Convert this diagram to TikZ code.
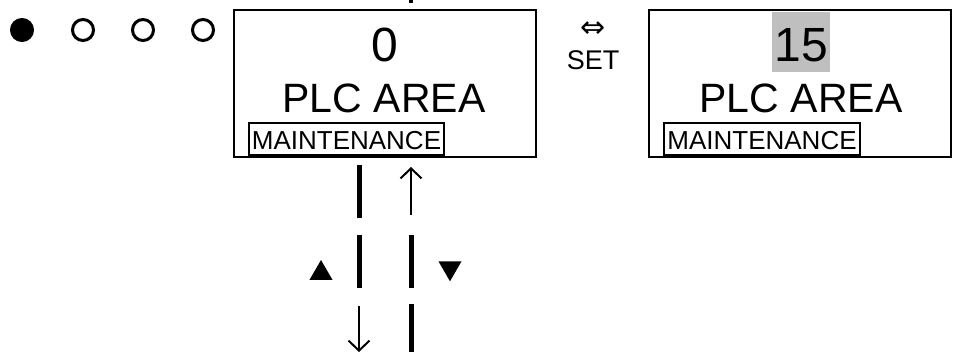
\documentclass[tikz,border=0pt]{standalone}
\usepackage{fontspec}
\setmainfont{Liberation Sans}
\newfontfamily\symfont{DejaVu Sans}
\usetikzlibrary{arrows.meta,shapes.geometric}

\begin{document}
\begin{tikzpicture}[
      x=1pt, y=-1pt,
      lcd/.style={draw, line width=2.6pt, minimum width=302pt, minimum height=147pt, inner sep=0pt},
      value/.style={font=\fontsize{48}{48}\selectfont, anchor=base, inner sep=0pt},
      title/.style={font=\fontsize{41}{41}\selectfont, anchor=base, inner sep=0pt},
      tag/.style={draw, line width=2.2pt, font=\fontsize{26}{26}\selectfont, anchor=base,
        text height=26pt, text depth=4pt, inner xsep=3pt, inner ysep=1pt},
      led/.style={circle, draw, line width=3pt, minimum size=21pt, inner sep=0pt},
      tri/.style={regular polygon, regular polygon sides=3, fill, minimum size=26.6pt, inner sep=0pt},
      bar/.style={line width=5pt},
      arrow/.style={-{Straight Barb[length=10pt, width=21pt]}, line width=2pt},
    ]
      \useasboundingbox (0,0) rectangle (959,352);
      % status leds
      \node[led, fill] (led1) at (22,30) {};
      \node[led] (led2) at (83,30) {};
      \node[led] (led3) at (143,30) {};
      \node[led] (led4) at (203,30) {};
      % first display
      \node[lcd] (lcdA) at (385,83.5) {};
      \node[value] (valA) at (385,62) {0};
      \node[title] (nameA) at (384,113) {PLC AREA};
      \node[tag] (tagA) at (346.5,150) {MAINTENANCE};
      % SET key
      \node[font=\symfont\fontsize{30}{30}\selectfont, inner sep=0pt] (swap) at (593,30) {⇔};
      \node[font=\fontsize{27}{27}\selectfont, anchor=base, inner sep=0pt] (set) at (593,70) {SET};
      % second display
      \node[lcd] (lcdB) at (800,83.5) {};
      \node[value, fill=black!25, text height=48pt, text depth=8pt, inner xsep=2.5pt, inner ysep=2pt] (valB) at (801,62) {15};
      \node[title] (nameB) at (801,113) {PLC AREA};
      \node[tag] (tagB) at (762,150) {MAINTENANCE};
      % up / down keys
      \node[tri] (keyUp) at (321,273.3) {};
      \node[tri, regular polygon rotate=180] (keyDown) at (450,268) {};
      \coordinate (topR) at (411,0);
      \coordinate (topRe) at (411,3);
      \coordinate (l1) at (359,165);
      \coordinate (l2) at (359,218);
      \coordinate (l3) at (359,235);
      \coordinate (l4) at (359,288);
      \coordinate (l5) at (359,306);
      \coordinate (l6) at (359,352);
      \coordinate (r1) at (411,215);
      \coordinate (r2) at (411,167);
      \coordinate (r3) at (411,235);
      \coordinate (r4) at (411,288);
      \coordinate (r5) at (411,304);
      \coordinate (r6) at (411,352);
      \draw[line width=4pt] (topR) -- (topRe);
      \draw[bar] (l1) -- (l2);
      \draw[bar] (l3) -- (l4);
      \draw[arrow] (l5) -- (l6);
      \draw[arrow] (r1) -- (r2);
      \draw[bar] (r3) -- (r4);
      \draw[bar] (r5) -- (r6);
    \end{tikzpicture}
\end{document}
